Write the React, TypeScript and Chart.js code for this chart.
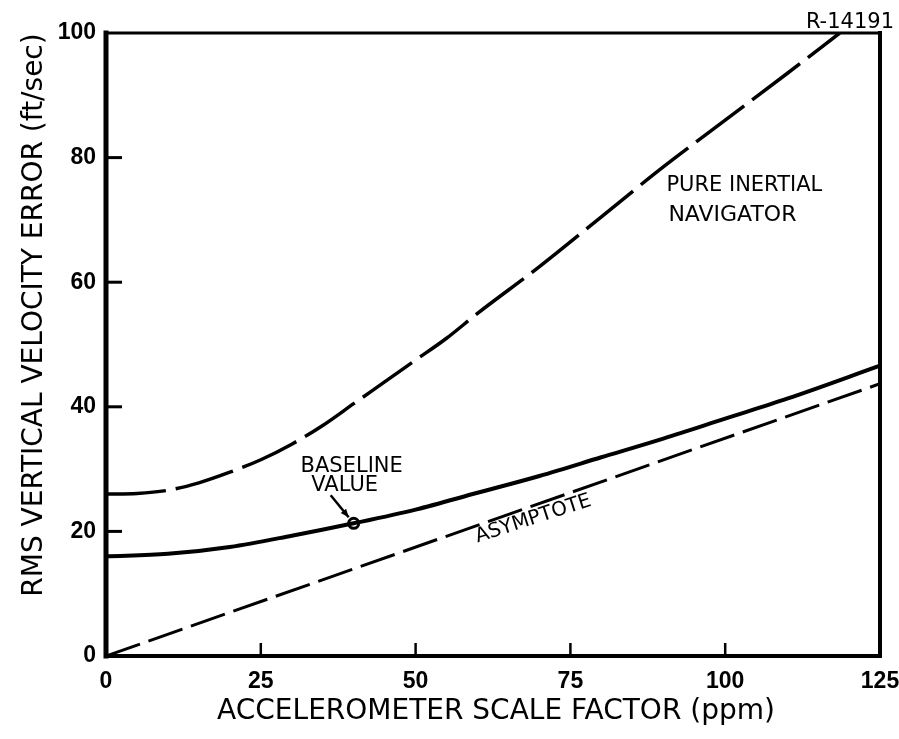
import React, { useEffect, useRef } from 'react';
import { Chart, registerables } from 'chart.js';

Chart.register(...registerables);

// Axis ticks
const xTicks = [0, 25, 50, 75, 100, 125];
const yTicks = [0, 20, 40, 60, 80, 100];

// Pure inertial navigator (dashed, long dashes)
const pureX = [0, 5, 10, 15, 20, 25, 30, 35, 40, 45, 50, 55, 60, 70, 80, 90, 100, 110, 118.5];
const pureY = [26, 26.1, 26.6, 27.8, 29.5, 31.5, 34, 37, 40.5, 44, 47.5, 51, 55, 62.5, 70.5, 78.5, 86, 93.5, 100];

// Aided system (solid)
const aidedX = [0, 10, 20, 30, 40, 50, 60, 70, 80, 90, 100, 110, 125];
const aidedY = [16, 16.4, 17.5, 19.3, 21.3, 23.5, 26.2, 28.9, 31.9, 34.9, 38.1, 41.3, 46.6];

// Asymptote (dashed straight line)
const asymX = [0, 125];
const asymY = [0, 43.7];

// Baseline value marker
const baseX = [40];
const baseY = [21.3];

// Text
const xTitle = 'ACCELEROMETER SCALE FACTOR (ppm)';
const yTitle = 'RMS VERTICAL VELOCITY ERROR (ft/sec)';
const figId = 'R-14191';

const FONT = '"DejaVu Sans", sans-serif';
const TICKFONT = '"Liberation Sans", Arial, sans-serif';

const zip = (xs: number[], ys: number[]) => xs.map((x, i) => ({ x, y: ys[i] }));

const overlay = {
  id: 'overlay',
  afterDatasetsDraw(chart: any) {
    const { ctx, chartArea, scales } = chart;
    const { left, right, top, bottom } = chartArea;
    const xs = scales.x;
    const ys = scales.y;
    const line = (x1: number, y1: number, x2: number, y2: number) => {
      ctx.beginPath();
      ctx.moveTo(x1, y1);
      ctx.lineTo(x2, y2);
      ctx.stroke();
    };
    ctx.save();
    ctx.strokeStyle = '#000';
    ctx.fillStyle = '#000';
    ctx.lineCap = 'square';

    // frame
    ctx.lineWidth = 5;
    line(left, top, left, bottom);
    ctx.lineWidth = 4;
    line(left, bottom, right, bottom);
    line(right, top, right, bottom);
    ctx.lineWidth = 3;
    line(left, top, right, top);

    // inward tick marks
    ctx.lineCap = 'butt';
    ctx.lineWidth = 3;
    yTicks.filter((v) => v > 0 && v < 100).forEach((v) => {
      const py = ys.getPixelForValue(v);
      line(left, py, left + 16, py);
    });
    ctx.lineWidth = 2.5;
    xTicks.filter((v) => v > 0 && v < 125).forEach((v) => {
      const px = xs.getPixelForValue(v);
      line(px, bottom, px, bottom - 13);
    });

    // axis titles
    ctx.textAlign = 'center';
    ctx.textBaseline = 'middle';
    ctx.font = `28px ${FONT}`;
    ctx.fillText(xTitle, 496, 712);
    ctx.save();
    ctx.translate(35, 315);
    ctx.rotate(-Math.PI / 2);
    ctx.fillText(yTitle, 0, 0);
    ctx.restore();

    // figure id
    ctx.textAlign = 'right';
    ctx.textBaseline = 'alphabetic';
    ctx.font = `21px ${FONT}`;
    ctx.fillText(figId, 894, 28);

    // pure inertial label
    ctx.textAlign = 'left';
    ctx.textBaseline = 'middle';
    ctx.font = `21px ${FONT}`;
    const lx = xs.getPixelForValue(90.5);
    const ly = ys.getPixelForValue(75.5);
    ctx.fillText('PURE INERTIAL', lx, ly);
    ctx.font = `22px ${FONT}`;
    ctx.fillText('NAVIGATOR', lx + 2, ly + 30);

    // baseline value label + arrow
    const bx = xs.getPixelForValue(baseX[0]);
    const by = ys.getPixelForValue(baseY[0]);
    ctx.textAlign = 'center';
    ctx.font = `21px ${FONT}`;
    ctx.fillText('BASELINE', bx - 2, by - 57);
    ctx.fillText('VALUE', bx - 9, by - 38);
    ctx.lineWidth = 2.5;
    const ax1 = bx - 23, ay1 = by - 28, ax2 = bx - 5, ay2 = by - 6;
    line(ax1, ay1, ax2, ay2);
    const ang = Math.atan2(ay2 - ay1, ax2 - ax1);
    ctx.beginPath();
    ctx.moveTo(ax2, ay2);
    ctx.lineTo(ax2 - 9 * Math.cos(ang - 0.4), ay2 - 9 * Math.sin(ang - 0.4));
    ctx.lineTo(ax2 - 9 * Math.cos(ang + 0.4), ay2 - 9 * Math.sin(ang + 0.4));
    ctx.closePath();
    ctx.fill();

    // asymptote label
    const tx = xs.getPixelForValue(69);
    const ty = ys.getPixelForValue(22);
    ctx.save();
    ctx.translate(tx, ty);
    ctx.rotate((-18 * Math.PI) / 180);
    ctx.font = `20px ${FONT}`;
    ctx.fillText('ASYMPTOTE', 0, 0);
    ctx.restore();

    ctx.restore();
  },
};

export default function App() {
  const ref = useRef<HTMLCanvasElement | null>(null);

  useEffect(() => {
    if (!ref.current) return;
    const chart = new Chart(ref.current, {
      type: 'line',
      data: {
        datasets: [
          {
            label: 'Pure inertial navigator',
            data: zip(pureX, pureY),
            borderColor: '#000',
            borderWidth: 3.5,
            borderDash: [60, 10],
            pointRadius: 0,
            cubicInterpolationMode: 'monotone',
            fill: false,
          },
          {
            label: 'Aided',
            data: zip(aidedX, aidedY),
            borderColor: '#000',
            borderWidth: 4,
            pointRadius: 0,
            cubicInterpolationMode: 'monotone',
            fill: false,
          },
          {
            label: 'Asymptote',
            data: zip(asymX, asymY),
            borderColor: '#000',
            borderWidth: 3,
            borderDash: [36, 9],
            pointRadius: 0,
            fill: false,
          },
          {
            label: 'Baseline value',
            data: zip(baseX, baseY),
            showLine: false,
            pointRadius: 5,
            pointBorderWidth: 3,
            pointBackgroundColor: '#fff',
            pointBorderColor: '#000',
          },
        ],
      },
      options: {
        animation: false,
        responsive: true,
        maintainAspectRatio: false,
        layout: { padding: { top: 33, right: 19, bottom: 0, left: 0 } },
        plugins: {
          legend: { display: false },
          tooltip: { enabled: false },
          title: { display: false },
        },
        scales: {
          x: {
            type: 'linear',
            min: 0,
            max: 125,
            afterBuildTicks: (s: any) => {
              s.ticks = xTicks.map((v) => ({ value: v }));
            },
            afterFit: (s: any) => {
              s.height = 83;
              s.paddingLeft = 0;
              s.paddingRight = 0;
            },
            grid: { display: false, drawTicks: false },
            border: { display: false },
            ticks: {
              color: '#000',
              padding: 12,
              maxRotation: 0,
              autoSkip: false,
              font: { family: TICKFONT, size: 23, weight: 'bold' },
            },
          },
          y: {
            type: 'linear',
            min: 0,
            max: 100,
            afterBuildTicks: (s: any) => {
              s.ticks = yTicks.map((v) => ({ value: v }));
            },
            afterFit: (s: any) => {
              s.width = 106;
              s.paddingTop = 0;
              s.paddingBottom = 0;
            },
            grid: { display: false, drawTicks: false },
            border: { display: false },
            ticks: {
              color: '#000',
              padding: 10,
              autoSkip: false,
              font: { family: TICKFONT, size: 23, weight: 'bold' },
            },
          },
        },
      },
      plugins: [overlay],
    });
    return () => chart.destroy();
  }, []);

  return (
    <div style={{ position: 'fixed', left: 0, top: 0, width: 899, height: 739, background: '#fff' }}>
      <canvas ref={ref} />
    </div>
  );
}
